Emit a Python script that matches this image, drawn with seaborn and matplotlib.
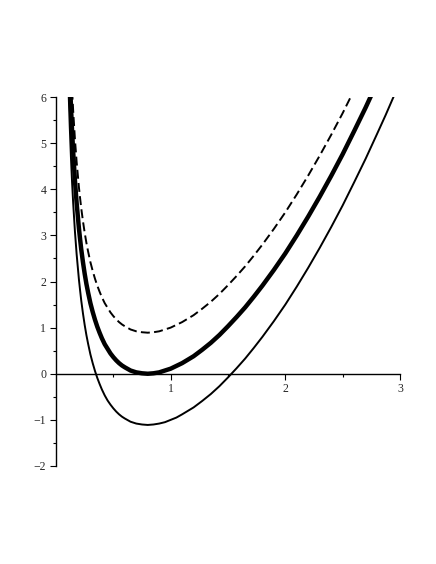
import matplotlib
matplotlib.use("Agg")
import matplotlib.pyplot as plt
import seaborn as sns
from matplotlib.ticker import FixedLocator

# values
thin_x = [0.11, 0.12, 0.13, 0.14, 0.15, 0.165, 0.18, 0.2, 0.21, 0.22, 0.235, 0.25,
          0.265, 0.28, 0.30, 0.32, 0.34, 0.36, 0.38, 0.4, 0.425, 0.45, 0.475, 0.5,
          0.525, 0.55, 0.575, 0.6, 0.65, 0.7, 0.75, 0.8, 0.85, 0.9, 0.95, 1.0,
          1.05, 1.1, 1.2, 1.275, 1.35, 1.425, 1.5, 1.575, 1.65, 1.725, 1.8, 1.9,
          2.0, 2.1, 2.2, 2.3, 2.4, 2.5, 2.6, 2.7, 2.8, 2.875, 2.95]
thin_y = [6.10, 5.35, 4.71, 4.16, 3.69, 3.09, 2.59, 2.04, 1.81, 1.59, 1.31, 1.06,
          0.84, 0.65, 0.42, 0.23, 0.06, -0.09, -0.22, -0.34, -0.47, -0.58, -0.67, -0.75,
          -0.82, -0.88, -0.93, -0.97, -1.04, -1.08, -1.10, -1.11, -1.10, -1.08, -1.05, -1.00,
          -0.95, -0.88, -0.73, -0.59, -0.44, -0.27, -0.08, 0.12, 0.33, 0.56, 0.80, 1.14,
          1.50, 1.89, 2.30, 2.73, 3.18, 3.65, 4.15, 4.66, 5.20, 5.61, 6.04]

thick_x = [0.12, 0.13, 0.14, 0.15, 0.165, 0.18, 0.2, 0.21, 0.22, 0.235, 0.25,
           0.265, 0.28, 0.30, 0.32, 0.34, 0.36, 0.38, 0.4, 0.425, 0.45, 0.475, 0.5,
           0.525, 0.55, 0.575, 0.6, 0.65, 0.7, 0.75, 0.8, 0.85, 0.9, 0.95, 1.0,
           1.05, 1.1, 1.2, 1.275, 1.35, 1.425, 1.5, 1.575, 1.65, 1.725, 1.8, 1.9,
           2.0, 2.1, 2.2, 2.3, 2.4, 2.5, 2.6, 2.7, 2.75]
thick_y = [6.46, 5.82, 5.27, 4.80, 4.20, 3.70, 3.15, 2.92, 2.70, 2.42, 2.17,
           1.95, 1.76, 1.53, 1.34, 1.17, 1.02, 0.89, 0.77, 0.64, 0.54, 0.44, 0.36,
           0.29, 0.23, 0.18, 0.14, 0.07, 0.03, 0.01, 0.00, 0.01, 0.03, 0.07, 0.11,
           0.17, 0.23, 0.38, 0.52, 0.67, 0.84, 1.03, 1.23, 1.44, 1.67, 1.91, 2.25,
           2.61, 3.00, 3.41, 3.84, 4.29, 4.76, 5.26, 5.77, 6.04]

dash_x = [0.13, 0.14, 0.15, 0.165, 0.18, 0.2, 0.21, 0.22, 0.235, 0.25,
          0.265, 0.28, 0.30, 0.32, 0.34, 0.36, 0.38, 0.4, 0.425, 0.45, 0.475, 0.5,
          0.525, 0.55, 0.575, 0.6, 0.65, 0.7, 0.75, 0.8, 0.85, 0.9, 0.95, 1.0,
          1.05, 1.1, 1.2, 1.275, 1.35, 1.425, 1.5, 1.575, 1.65, 1.725, 1.8, 1.9,
          2.0, 2.1, 2.2, 2.3, 2.4, 2.5, 2.6]
dash_y = [6.71, 6.16, 5.69, 5.09, 4.59, 4.04, 3.81, 3.59, 3.31, 3.06,
          2.84, 2.65, 2.42, 2.23, 2.06, 1.91, 1.78, 1.66, 1.53, 1.43, 1.33, 1.25,
          1.18, 1.12, 1.07, 1.03, 0.96, 0.92, 0.90, 0.89, 0.90, 0.92, 0.96, 1.00,
          1.06, 1.12, 1.27, 1.41, 1.56, 1.73, 1.92, 2.12, 2.33, 2.56, 2.80, 3.14,
          3.50, 3.89, 4.30, 4.73, 5.18, 5.65, 6.15]

x_ticks = [1, 2, 3]
x_minor = [0.5, 1.5, 2.5]
y_ticks = [-2, -1, 0, 1, 2, 3, 4, 5, 6]
y_minor = [-1.5, -0.5, 0.5, 1.5, 2.5, 3.5, 4.5, 5.5]

sns.set_style("white")
plt.rcParams["font.family"] = ["Liberation Serif", "DejaVu Serif"]

fig = plt.figure(figsize=(4.36, 5.64), dpi=100)
ax = fig.add_axes([56 / 436, (564 - 466) / 564, 344 / 436, 369 / 564])

sns.lineplot(x=thin_x, y=thin_y, ax=ax, color="black", linewidth=1.4,
             sort=False, estimator=None)
sns.lineplot(x=thick_x, y=thick_y, ax=ax, color="black", linewidth=3.2,
             sort=False, estimator=None, solid_capstyle="round")
sns.lineplot(x=dash_x, y=dash_y, ax=ax, color="black", linewidth=1.4,
             sort=False, estimator=None, linestyle=(0, (4.6, 2.2)))

ax.set_xlim(0, 3)
ax.set_ylim(-2, 6)

ax.spines["top"].set_visible(False)
ax.spines["right"].set_visible(False)
ax.spines["bottom"].set_position(("data", 0))
ax.spines["left"].set_position(("data", 0))
for s in ("bottom", "left"):
    ax.spines[s].set_color("black")
    ax.spines[s].set_linewidth(1.0)

ax.xaxis.set_major_locator(FixedLocator(x_ticks))
ax.xaxis.set_minor_locator(FixedLocator(x_minor))
ax.yaxis.set_major_locator(FixedLocator(y_ticks))
ax.yaxis.set_minor_locator(FixedLocator(y_minor))
ax.set_xticklabels([str(t) for t in x_ticks])
ax.set_yticklabels([str(t).replace("-", "\u2212") for t in y_ticks])

ax.tick_params(axis="both", which="major", direction="out", length=4, width=0.8,
               color="black", labelsize=8.5, pad=3, bottom=True, left=True)
ax.tick_params(axis="both", which="minor", direction="out", length=2, width=0.8,
               color="black", bottom=True, left=True)

ax.set_xlabel("")
ax.set_ylabel("")

fig.savefig("out.png", dpi=100, facecolor="white")
